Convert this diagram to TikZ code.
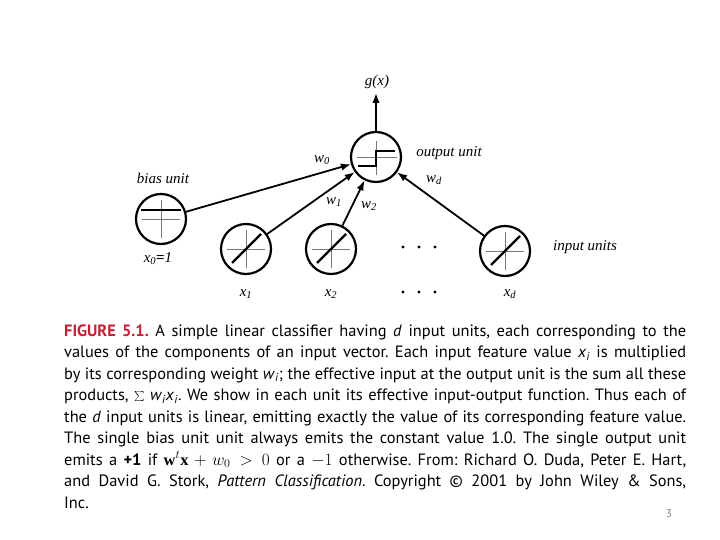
\documentclass[tikz,border=0pt]{standalone}
\usepackage{fontspec}
\setmainfont{Liberation Serif}
\newfontfamily\capfont{PT Sans}
\usetikzlibrary{arrows.meta}
\definecolor{figred}{RGB}{196,30,52}
\definecolor{crossgray}{RGB}{120,120,120}
\frenchspacing
\begin{document}
\begin{tikzpicture}[x=1pt,y=-1pt,
  unit/.style={circle,draw,line width=2.2pt,minimum size=50pt,inner sep=0pt},
  conn/.style={line width=1.8pt,-{Latex[length=10pt,width=7.5pt]}},
  cross/.style={draw=crossgray,line width=0.8pt},
  fn/.style={line width=2.2pt},
  lab/.style={font=\fontsize{15}{17}\selectfont\itshape,inner sep=0pt},
  dot/.style={circle,fill,inner sep=0pt,minimum size=3.2pt},
  capline/.style={font=\capfont\fontsize{16.4}{19}\selectfont,inner sep=0pt,anchor=base west}]
\useasboundingbox (0,0) rectangle (720,540);
\fill[white] (0,0) rectangle (720,540);

% units
\node[unit] (out) at (376,157) {};
\node[unit] (bias) at (161,219) {};
\node[unit] (x1) at (246,249) {};
\node[unit] (x2) at (331,249) {};
\node[unit] (xd) at (505,251) {};

% output step function
\draw[cross] ([shift={(-19,0)}]out.center) -- ([shift={(21,0)}]out.center);
\draw[cross] ([shift={(0,-16)}]out.center) -- ([shift={(0,18)}]out.center);
\draw[fn] ([shift={(-18,9)}]out.center) -- ([shift={(0,9)}]out.center) -- ([shift={(0,-6)}]out.center) -- ([shift={(19,-6)}]out.center);

% bias function
\draw[cross] ([shift={(-19,0)}]bias.center) -- ([shift={(19,0)}]bias.center);
\draw[cross] ([shift={(0,-19)}]bias.center) -- ([shift={(0,19)}]bias.center);
\draw[fn] ([shift={(-20,-9)}]bias.center) -- ([shift={(20,-9)}]bias.center);

% input linear functions
\foreach \u in {x1,x2,xd}{
  \draw[cross] ([shift={(-19,0)}]\u.center) -- ([shift={(19,0)}]\u.center);
  \draw[cross] ([shift={(0,-19)}]\u.center) -- ([shift={(0,19)}]\u.center);
  \draw[fn] ([shift={(-14,14)}]\u.center) -- ([shift={(15,-15)}]\u.center);
}

% connectors
\coordinate (gtip) at (376,93);
\draw[conn] (out) -- (gtip);
\draw[conn] (bias) -- (out);
\draw[conn] (x1) -- (out);
\draw[conn] (x2) -- (out);
\draw[conn] (xd) -- (out);

% labels
\node[lab] (gx) at (377,82) {g(x)};
\node[lab] (ou) at (449,153) {output unit};
\node[lab] (bu) at (163,178) {bias unit};
\node[lab] (iu) at (585,247) {input units};
\node[lab] (w0) at (322,160) {w\textsubscript{0}};
\node[lab] (w1) at (334,202) {w\textsubscript{1}};
\node[lab] (w2) at (369,206) {w\textsubscript{2}};
\node[lab] (wd) at (434,180) {w\textsubscript{d}};
\node[lab] (x0l) at (158,259) {x\textsubscript{0}\upshape\textbf{=}\itshape 1};
\node[lab] (x1l) at (246,294) {x\textsubscript{1}};
\node[lab] (x2l) at (331,294) {x\textsubscript{2}};
\node[lab] (xdl) at (510,294) {x\textsubscript{d}};

% dots
\foreach \xx [count=\i] in {403,419,435}{
  \node[dot] (da\i) at (\xx,247) {};
  \node[dot] (db\i) at (\xx,292) {};
}

% caption
\node[capline] (l1) at (64,336) {\makebox[622pt][s]{\textcolor{figred}{\textbf{FIGURE 5.1.}} A simple linear classifier having \textit{d} input units, each corresponding to the}};
\node[capline] (l2) at (64,357.5) {\makebox[622pt][s]{values of the components of an input vector. Each input feature value \textit{x}\textsubscript{\textit{i}} is multiplied}};
\node[capline] (l3) at (64,379) {\makebox[622pt][s]{by its corresponding weight \textit{w}\textsubscript{\textit{i}}; the effective input at the output unit is the sum all these}};
\node[capline] (l4) at (64,400.5) {\makebox[622pt][s]{products, $\sum$ \textit{w}\textsubscript{\textit{i}}\textit{x}\textsubscript{\textit{i}}. We show in each unit its effective input-output function. Thus each of}};
\node[capline] (l5) at (64,422) {\makebox[622pt][s]{the \textit{d} input units is linear, emitting exactly the value of its corresponding feature value.}};
\node[capline] (l6) at (64,443.5) {\makebox[622pt][s]{The single bias unit unit always emits the constant value 1.0. The single output unit}};
\node[capline] (l7) at (64,465) {\makebox[622pt][s]{emits a \textbf{+1} if $\mathbf{w}^t\mathbf{x}+w_0>0$ or a $-1$ otherwise. From: Richard O. Duda, Peter E. Hart,}};
\node[capline] (l8) at (64,486.5) {\makebox[622pt][s]{and David G. Stork, \textit{Pattern Classification}. Copyright \textcopyright{} 2001 by John Wiley \& Sons,}};
\node[capline] (l9) at (64,508) {Inc.};

\node[font=\capfont\fontsize{11}{13}\selectfont,text=gray,inner sep=0pt] (pg) at (669,514) {3};
\end{tikzpicture}
\end{document}
